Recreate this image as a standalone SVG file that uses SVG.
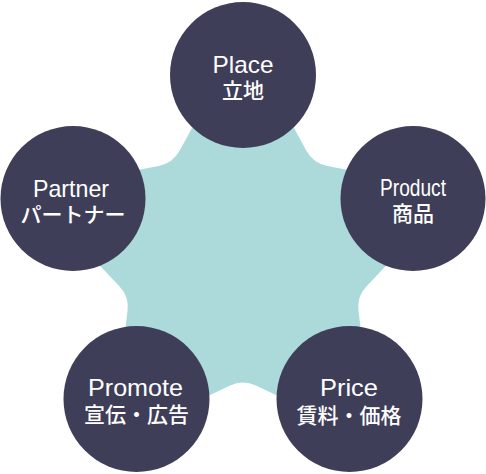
<svg xmlns="http://www.w3.org/2000/svg" width="486" height="474" viewBox="0 0 486 474">
<style>
.node circle{fill:#3f3e58}
.en{font-family:"Liberation Sans",Arial,sans-serif;font-size:24px;fill:#ffffff;text-anchor:middle}
.jp{font-family:"Noto Sans CJK JP","Noto Sans",sans-serif;font-size:21px;font-weight:500;fill:#ffffff;text-anchor:middle}
</style>
<rect width="486" height="474" fill="#ffffff"/>
<g id="connectors">
<path fill="#acd9da" d="M 243 35 L 306.42 150.86 A 30 30 0 0 0 327.2 165.96 L 457 190.5 L 366.4 286.59 A 30 30 0 0 0 358.46 311.01 L 375.3 442 L 255.84 385.57 A 30 30 0 0 0 230.16 385.57 L 110.7 442 L 127.54 311.01 A 30 30 0 0 0 119.6 286.59 L 29 190.5 L 158.8 165.96 A 30 30 0 0 0 179.58 150.86 Z"/>
</g>
<g id="place" class="node">
<circle cx="243" cy="75" r="73"/>
<text class="en" x="243" y="73" textLength="61" lengthAdjust="spacingAndGlyphs">Place</text>
<text class="jp" x="243" y="98">立地</text>
</g>
<g id="partner" class="node">
<circle cx="73" cy="198.5" r="72.5"/>
<text class="en" x="71" y="197" textLength="76" lengthAdjust="spacingAndGlyphs">Partner</text>
<text class="jp" x="73" y="222">パートナー</text>
</g>
<g id="product" class="node">
<circle cx="413" cy="198.5" r="72.5"/>
<text class="en" x="413" y="196" textLength="66" lengthAdjust="spacingAndGlyphs">Product</text>
<text class="jp" x="413" y="221">商品</text>
</g>
<g id="promote" class="node">
<circle cx="136.5" cy="399" r="73"/>
<text class="en" x="135.5" y="396" textLength="95" lengthAdjust="spacingAndGlyphs">Promote</text>
<text class="jp" x="136.5" y="422">宣伝・広告</text>
</g>
<g id="price" class="node">
<circle cx="349.5" cy="399" r="73"/>
<text class="en" x="349" y="396" textLength="58" lengthAdjust="spacingAndGlyphs">Price</text>
<text class="jp" x="349" y="423">賃料・価格</text>
</g>
</svg>
